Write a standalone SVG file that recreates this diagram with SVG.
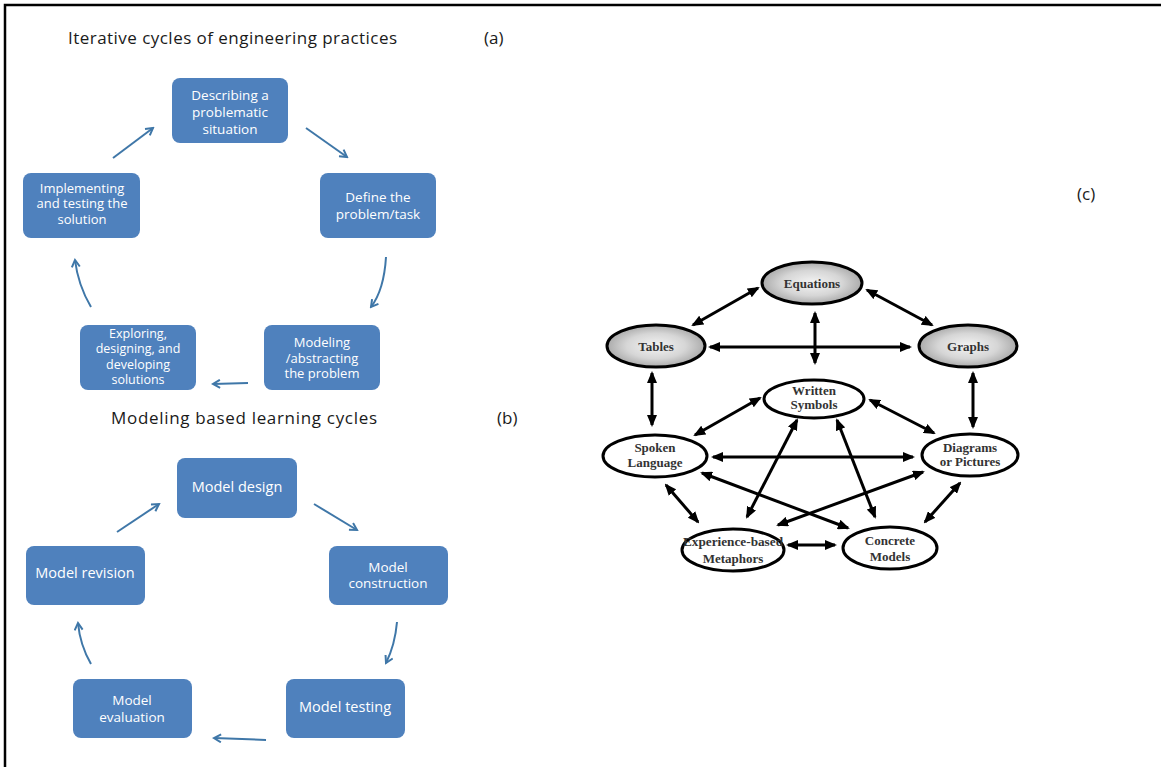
<svg xmlns="http://www.w3.org/2000/svg" width="1161" height="767" viewBox="0 0 1161 767">
<style>
.bx{fill:#4f81bd;}
.bt{font-family:"Open Sans","Liberation Sans",sans-serif;font-size:13px;fill:#ffffff;text-anchor:middle;}
.b1{font-size:14.5px;}
.b3{font-size:13.5px;}
.b4{font-size:12.5px;}
.ttl{font-family:"Open Sans","Liberation Sans",sans-serif;font-size:17px;fill:#1a1a1a;}
.ba{fill:none;stroke:#3f77a8;stroke-width:2;marker-end:url(#bh);}
.el{stroke:#000000;stroke-width:3;}
.et{font-family:"Liberation Serif","Times New Roman",serif;font-weight:bold;font-size:13px;fill:#333333;text-anchor:middle;}
.ka{stroke:#000000;stroke-width:3;fill:none;marker-start:url(#kh);marker-end:url(#kh);}
</style>
<defs>
<marker id="bh" viewBox="0 0 10 10" refX="8" refY="5" markerWidth="10" markerHeight="10" markerUnits="userSpaceOnUse" orient="auto">
<path d="M1,1 L8,5 L1,9" fill="none" stroke="#3f77a8" stroke-width="2"/>
</marker>
<marker id="kh" viewBox="0 0 12 10" refX="10" refY="5" markerWidth="12" markerHeight="10" markerUnits="userSpaceOnUse" orient="auto-start-reverse">
<path d="M0,0 L12,5 L0,10 z" fill="#000000"/>
</marker>
<radialGradient id="gg" cx="50%" cy="50%" r="55%">
<stop offset="0" stop-color="#f4f4f4"/>
<stop offset="0.55" stop-color="#d6d6d6"/>
<stop offset="1" stop-color="#a0a0a0"/>
</radialGradient>
</defs>
<rect x="0" y="0" width="1161" height="767" fill="#ffffff"/>
<path d="M5,767 V5 H1161" fill="none" stroke="#000000" stroke-width="2.5"/>

<text class="ttl" x="68" y="44" textLength="329">Iterative cycles of engineering practices</text>
<text class="ttl" x="484" y="44">(a)</text>
<text class="ttl" x="111" y="424" textLength="266">Modeling based learning cycles</text>
<text class="ttl" x="497" y="424">(b)</text>
<text class="ttl" x="1077" y="200">(c)</text>

<g id="a1"><rect class="bx" x="172" y="78" width="116" height="65" rx="8"/>
<text class="bt b3" x="230" y="100">Describing a</text><text class="bt b3" x="230" y="117">problematic</text><text class="bt b3" x="230" y="134">situation</text></g>
<g id="a2"><rect class="bx" x="320" y="173" width="116" height="65" rx="8"/>
<text class="bt b3" x="378" y="202">Define the</text><text class="bt b3" x="378" y="218.5">problem/task</text></g>
<g id="a3"><rect class="bx" x="264" y="325" width="116" height="65" rx="8"/>
<text class="bt" x="322" y="347">Modeling</text><text class="bt" x="322" y="362.7">/abstracting</text><text class="bt" x="322" y="378.4">the problem</text></g>
<g id="a4"><rect class="bx" x="80" y="325" width="116" height="65" rx="8"/>
<text class="bt b4" x="138" y="337.5">Exploring,</text><text class="bt b4" x="138" y="353">designing, and</text><text class="bt b4" x="138" y="368.5">developing</text><text class="bt b4" x="138" y="384">solutions</text></g>
<g id="a5"><rect class="bx" x="23" y="173" width="117" height="65" rx="8"/>
<text class="bt" x="82" y="192.5">Implementing</text><text class="bt" x="82" y="208.2">and testing the</text><text class="bt" x="82" y="223.9">solution</text></g>

<g id="b1"><rect class="bx" x="177" y="458" width="120" height="60" rx="8"/>
<text class="bt b1" x="237" y="492">Model design</text></g>
<g id="b2"><rect class="bx" x="329" y="546" width="119" height="59" rx="8"/>
<text class="bt b3" x="388" y="571.5">Model</text><text class="bt b3" x="388" y="588">construction</text></g>
<g id="b3"><rect class="bx" x="286" y="679" width="119" height="59" rx="8"/>
<text class="bt b1" x="345" y="712">Model testing</text></g>
<g id="b4"><rect class="bx" x="73" y="679" width="119" height="59" rx="8"/>
<text class="bt b3" x="132" y="705">Model</text><text class="bt b3" x="132" y="721.5">evaluation</text></g>
<g id="b5"><rect class="bx" x="26" y="546" width="119" height="59" rx="8"/>
<text class="bt b1" x="85" y="578">Model revision</text></g>

<g id="c-eq"><ellipse class="el" cx="812" cy="283" rx="50" ry="21" fill="url(#gg)"/><text class="et" x="812" y="288">Equations</text></g>
<g id="c-tb"><ellipse class="el" cx="656" cy="346" rx="49" ry="21" fill="url(#gg)"/><text class="et" x="656" y="351">Tables</text></g>
<g id="c-gr"><ellipse class="el" cx="968" cy="346" rx="49" ry="21" fill="url(#gg)"/><text class="et" x="968" y="351">Graphs</text></g>
<g id="c-ws"><ellipse class="el" cx="814" cy="399" rx="50" ry="19" fill="#ffffff"/><text class="et" x="814" y="395">Written</text><text class="et" x="814" y="409">Symbols</text></g>
<g id="c-sl"><ellipse class="el" cx="655" cy="456" rx="52" ry="21" fill="#ffffff"/><text class="et" x="655" y="452">Spoken</text><text class="et" x="655" y="467">Language</text></g>
<g id="c-dp"><ellipse class="el" cx="970" cy="455" rx="48" ry="21" fill="#ffffff"/><text class="et" x="970" y="452">Diagrams</text><text class="et" x="970" y="466">or Pictures</text></g>
<g id="c-em"><ellipse class="el" cx="733" cy="550" rx="51" ry="21" fill="#ffffff"/><text class="et" x="733" y="546" textLength="100" lengthAdjust="spacingAndGlyphs">Experience-based</text><text class="et" x="733" y="563">Metaphors</text></g>
<g id="c-cm"><ellipse class="el" cx="890" cy="548" rx="47" ry="21" fill="#ffffff"/><text class="et" x="890" y="545">Concrete</text><text class="et" x="890" y="561">Models</text></g>

<g id="connectors">
<path class="ba" d="M306,128 L347,157"/>
<path class="ba" d="M386,257 Q384,290 371,307"/>
<path class="ba" d="M248,383 L213,384"/>
<path class="ba" d="M91,307 Q78,285 75,260"/>
<path class="ba" d="M113,158 L153,128"/>

<path class="ba" d="M314,504 L357,530"/>
<path class="ba" d="M397,622 Q395,645 386,663"/>
<path class="ba" d="M266,740 L214,738"/>
<path class="ba" d="M91,664 Q80,645 78,623"/>
<path class="ba" d="M117,532 L159,504"/>

<path class="ka" d="M758,288 L693,325"/>
<path class="ka" d="M867,290 L932,325"/>
<path class="ka" d="M815,313 L815,363"/>
<path class="ka" d="M710,347 L910,347"/>
<path class="ka" d="M652,373 L652,425"/>
<path class="ka" d="M973,373 L973,427"/>
<path class="ka" d="M760,398 L695,435"/>
<path class="ka" d="M870,400 L934,433"/>
<path class="ka" d="M713,457 L913,457"/>
<path class="ka" d="M797,420 L747,517"/>
<path class="ka" d="M837,420 L875,517"/>
<path class="ka" d="M702,473 L848,528"/>
<path class="ka" d="M923,472 L778,525"/>
<path class="ka" d="M666,485 L698,522"/>
<path class="ka" d="M960,483 L925,522"/>
<path class="ka" d="M788,545 L835,545"/>
</g>
</svg>
